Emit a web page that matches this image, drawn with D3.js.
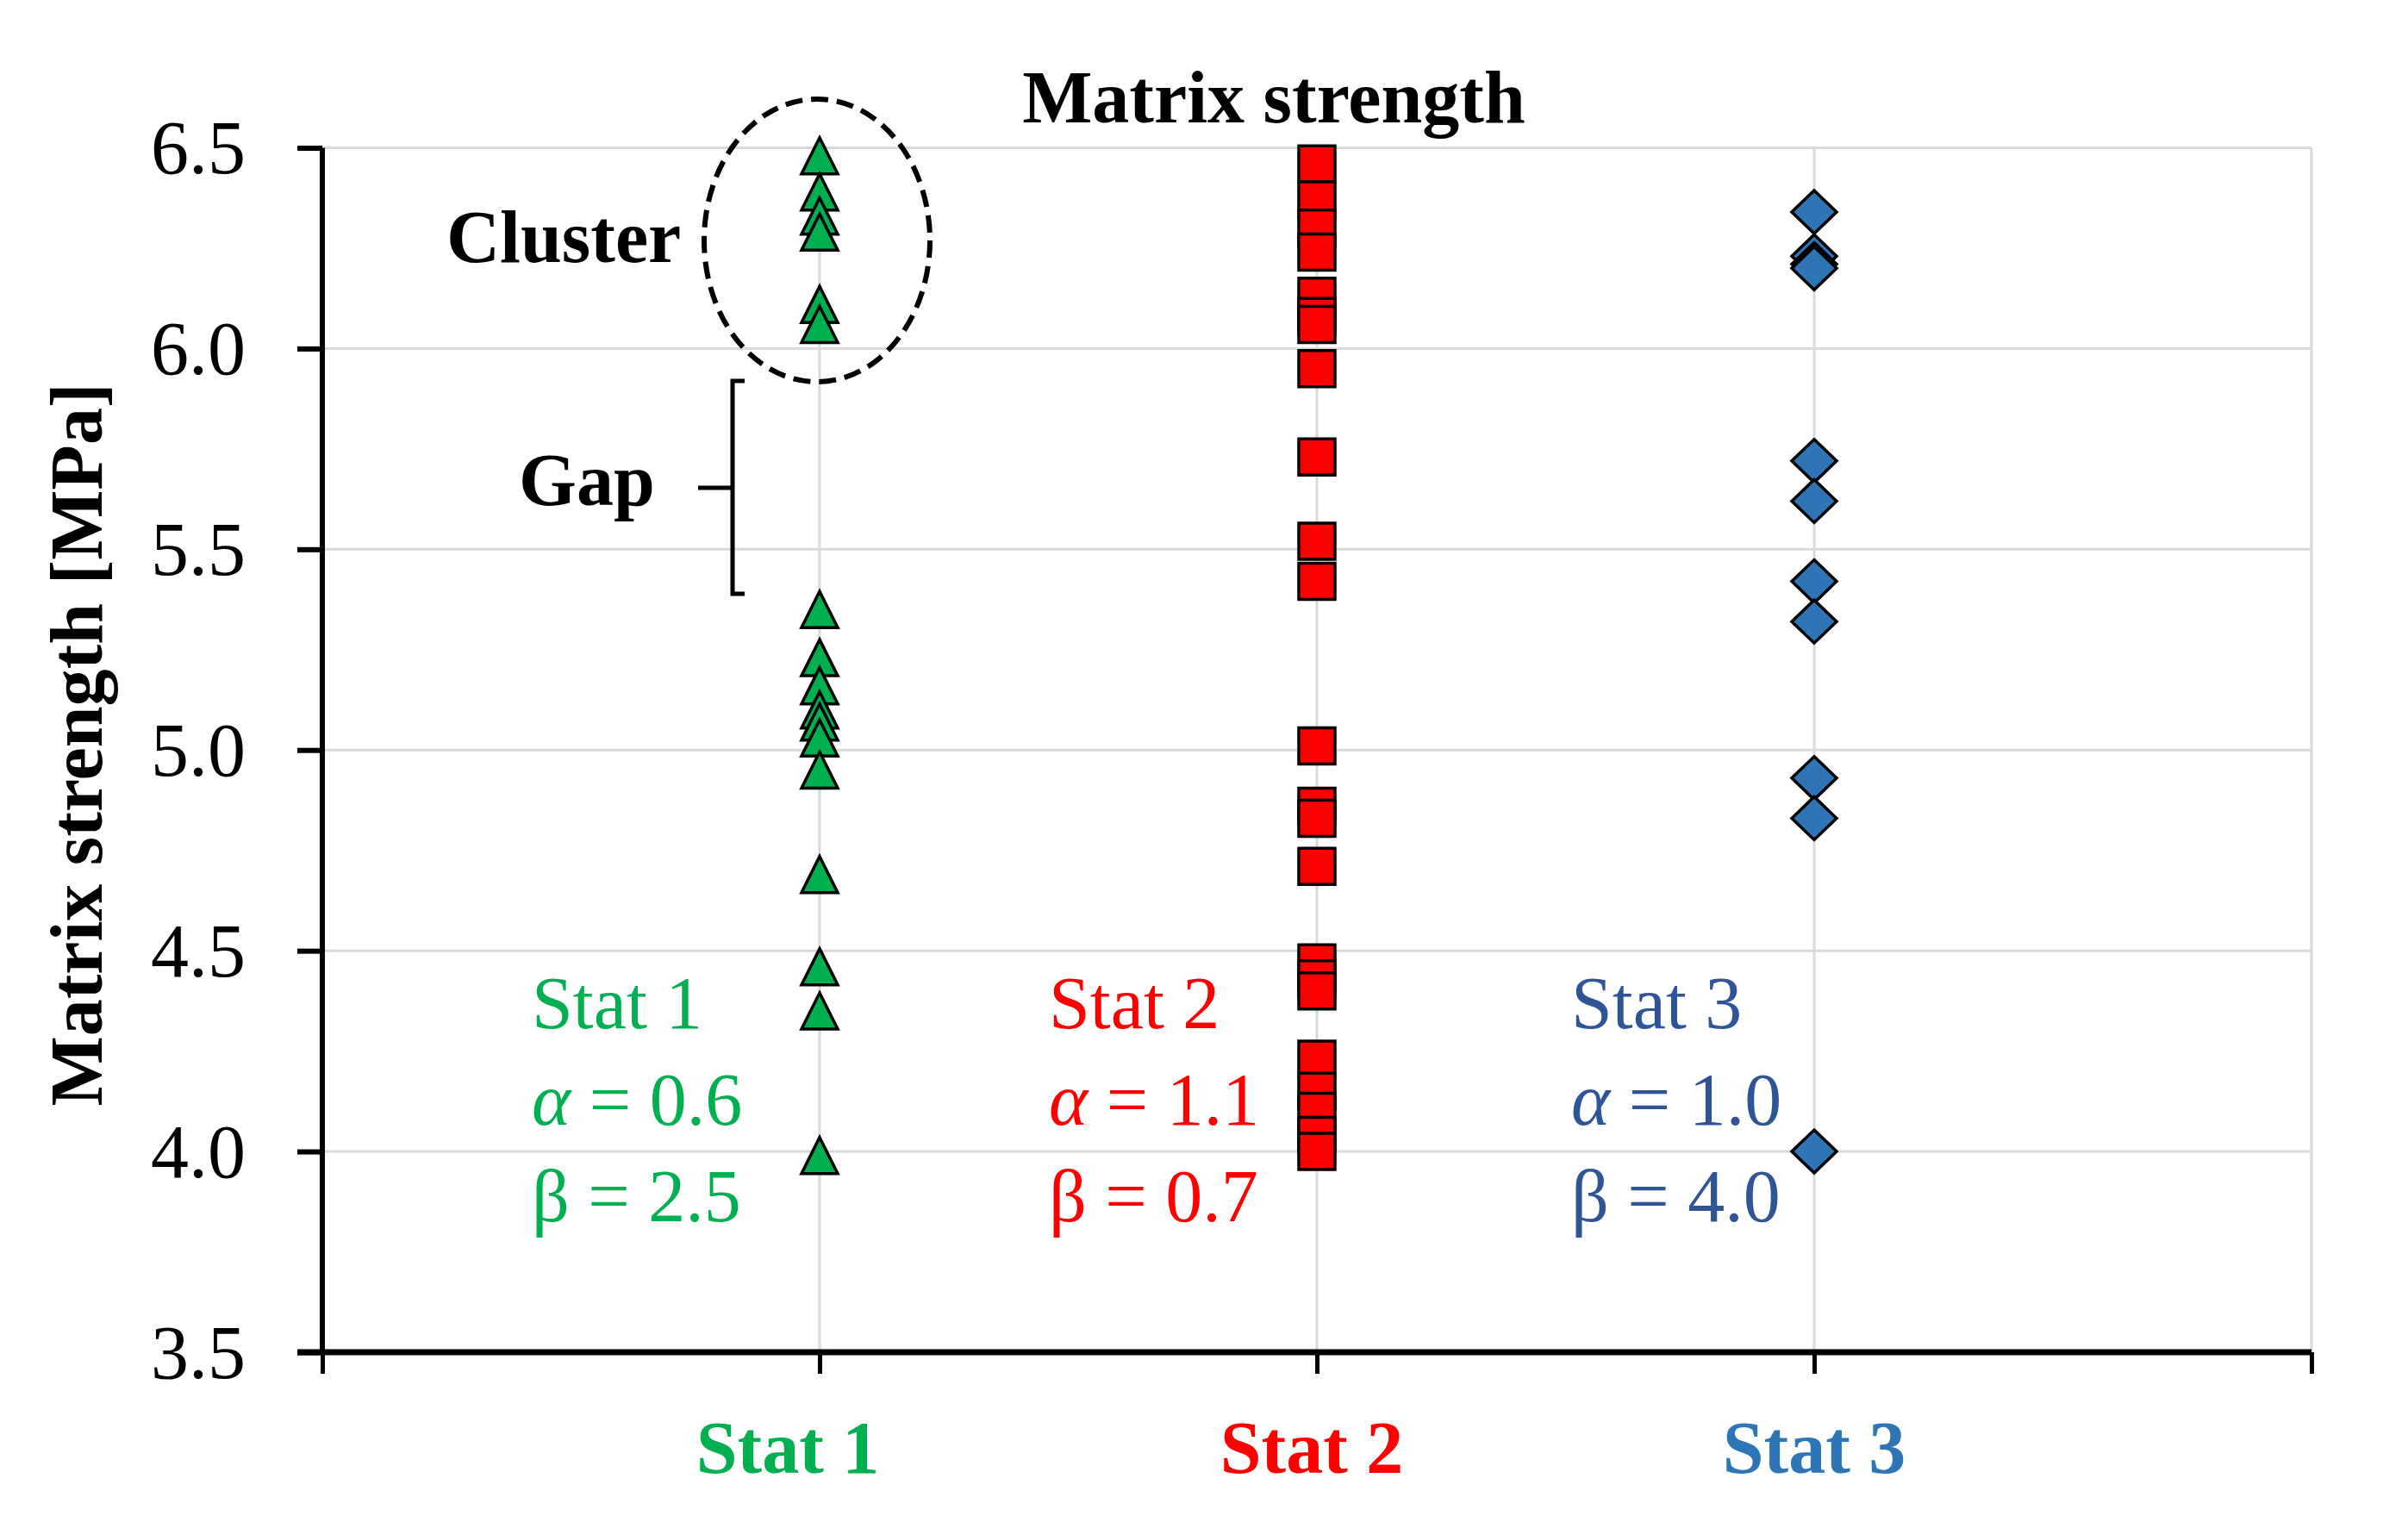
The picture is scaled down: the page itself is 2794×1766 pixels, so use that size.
<!DOCTYPE html>
<html>
<head>
<meta charset="utf-8">
<script src="https://cdn.jsdelivr.net/npm/d3@7"></script>
<style>
  html, body { margin: 0; padding: 0; background: #fff; }
  svg { display: block; }
  text { font-family: "Liberation Serif", "Times New Roman", serif; }
</style>
</head>
<body>
<script>
// ---------- data ----------
const categories = ["Stat 1", "Stat 2", "Stat 3"];
const stat1Values = [6.48, 6.39, 6.33, 6.29, 6.11, 6.06, 5.35, 5.23, 5.16, 5.10, 5.07, 5.03, 4.95, 4.69, 4.46, 4.35, 3.99];
const stat2Values = [6.46, 6.37, 6.30, 6.24, 6.13, 6.08, 6.06, 5.95, 5.73, 5.52, 5.42, 5.01, 4.86, 4.83, 4.71, 4.47, 4.43, 4.40, 4.23, 4.15, 4.10, 4.04, 4.00];
const stat3Values = [6.34, 6.23, 6.21, 6.20, 5.72, 5.62, 5.42, 5.32, 4.93, 4.83, 4.00];
const yTicks = [3.5, 4.0, 4.5, 5.0, 5.5, 6.0, 6.5];
const alphaLabels = ["0.6", "1.1", "1.0"];
const betaLabels = ["2.5", "0.7", "4.0"];
const titleText = "Matrix strength";
const yAxisTitle = "Matrix strength [MPa]";

// ---------- layout ----------
const W = 2794, H = 1766;
const pLeft = 374, pRight = 2682, pTop = 171.5, pBottom = 1569;
const green = "#00B050", red = "#FF0000", blueMark = "#2E75B6", blueText = "#2F5597";
const gridColor = "#D9D9D9";

const svg = d3.select("body").append("svg").attr("width", W).attr("height", H);

const x = d3.scaleLinear().domain([0, 4]).range([pLeft, pRight]);
const y = d3.scaleLinear().domain([3.5, 6.5]).range([pBottom, pTop]);

// gridlines
const grid = svg.append("g");
grid.selectAll("line.h").data(yTicks.filter(t => t > 3.5)).join("line")
  .attr("x1", pLeft).attr("x2", pRight)
  .attr("y1", d => y(d)).attr("y2", d => y(d))
  .attr("stroke", gridColor).attr("stroke-width", 3);
grid.selectAll("line.v").data([1, 2, 3, 4]).join("line")
  .attr("x1", d => x(d)).attr("x2", d => x(d))
  .attr("y1", pTop).attr("y2", pBottom)
  .attr("stroke", gridColor).attr("stroke-width", 3);

// y axis
const yAxis = d3.axisLeft(y).tickValues(yTicks).tickFormat(d3.format(".1f")).tickSize(29).tickPadding(60);
const gy = svg.append("g").attr("transform", `translate(${pLeft},0)`).call(yAxis);
gy.select(".domain").attr("stroke", "#000").attr("stroke-width", 6).attr("d", `M0,${pTop}V${pBottom}`);
gy.selectAll(".tick line").attr("stroke", "#000").attr("stroke-width", 6);
gy.selectAll(".tick text").attr("font-size", 88).attr("fill", "#000")
  .attr("font-family", "Liberation Serif, serif").attr("dy", "0.33em");

// x axis
const xAxis = d3.axisBottom(x).tickValues([0, 1, 2, 3, 4]).tickFormat("").tickSize(25).tickSizeOuter(0);
const gx = svg.append("g").attr("transform", `translate(0,${pBottom})`).call(xAxis);
gx.select(".domain").attr("stroke", "#000").attr("stroke-width", 7).attr("d", `M${pLeft - 29},0H${pRight}`);
gx.selectAll(".tick line").attr("stroke", "#000").attr("stroke-width", 5);

// x category labels
const labelColors = [green, red, blueMark];
const labelDx = [-37, -6, 0];
svg.selectAll("text.xcat").data(categories).join("text")
  .attr("x", (d, i) => x(i + 1) + labelDx[i]).attr("y", 1709)
  .attr("text-anchor", "middle").attr("font-size", 86).attr("font-weight", "bold")
  .attr("fill", (d, i) => labelColors[i]).text(d => d);

// title
svg.append("text").attr("x", 1478).attr("y", 142).attr("text-anchor", "middle")
  .attr("font-size", 86).attr("font-weight", "bold").text(titleText);

// y axis title
svg.append("text").attr("transform", `translate(118,864) rotate(-90)`)
  .attr("text-anchor", "middle").attr("font-size", 86).attr("font-weight", "bold").text(yAxisTitle);

// annotations: cluster ellipse, gap bracket
svg.append("ellipse").attr("cx", 948).attr("cy", 279).attr("rx", 131).attr("ry", 164)
  .attr("fill", "none").attr("stroke", "#000").attr("stroke-width", 6).attr("stroke-dasharray", "20,10");
svg.append("text").attr("x", 518).attr("y", 304).attr("font-size", 86).attr("font-weight", "bold").text("Cluster");
svg.append("text").attr("x", 602).attr("y", 586).attr("font-size", 86).attr("font-weight", "bold").text("Gap");
svg.append("path").attr("d", "M864,442 H850 V689 H864 M810,566 H850")
  .attr("fill", "none").attr("stroke", "#000").attr("stroke-width", 5);

// markers
const triPath = (cx, cy) => `M${cx},${cy - 21}L${cx + 21},${cy + 21}L${cx - 21},${cy + 21}Z`;
const sqPath = (cx, cy) => `M${cx - 21},${cy - 21}H${cx + 21}V${cy + 21}H${cx - 21}Z`;
const diaPath = (cx, cy) => `M${cx},${cy - 25}L${cx + 26},${cy}L${cx},${cy + 25}L${cx - 26},${cy}Z`;

const series = [
  { values: stat1Values, pos: 1, color: green, shape: triPath },
  { values: stat2Values, pos: 2, color: red, shape: sqPath },
  { values: stat3Values, pos: 3, color: blueMark, shape: diaPath }
];
series.forEach(s => {
  svg.append("g").selectAll("path").data(s.values).join("path")
    .attr("d", d => s.shape(x(s.pos), y(d)))
    .attr("fill", s.color).attr("stroke", "#000").attr("stroke-width", 3.5).attr("stroke-linejoin", "miter");
});

// stat parameter text blocks
const blockX = [617, 1217, 1823];
const blockColors = [green, red, blueText];
categories.forEach((c, i) => {
  const g = svg.append("g").attr("fill", blockColors[i]).attr("font-size", 86);
  g.append("text").attr("x", blockX[i]).attr("y", 1193).text(c);
  const a = g.append("text").attr("x", blockX[i]).attr("y", 1305);
  a.append("tspan").attr("font-style", "italic").text("α");
  a.append("tspan").text(" = " + alphaLabels[i]);
  g.append("text").attr("x", blockX[i]).attr("y", 1417).text("β = " + betaLabels[i]);
});
</script>
</body>
</html>
